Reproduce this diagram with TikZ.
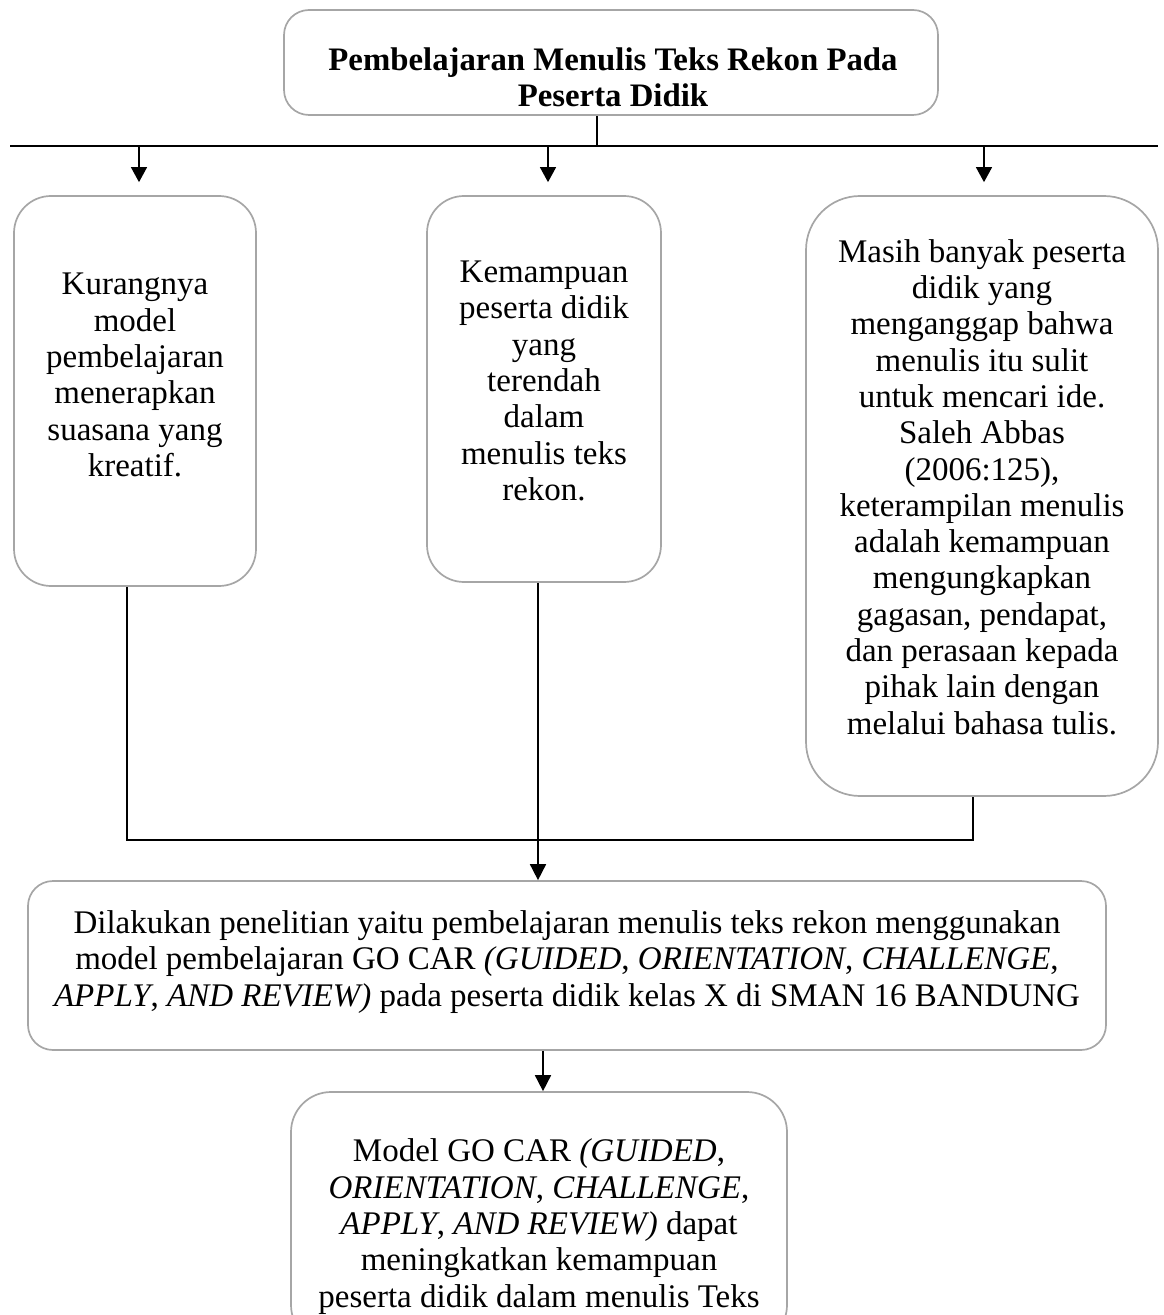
\documentclass[tikz,border=0pt]{standalone}
\usepackage{fontspec}
\setmainfont{Liberation Serif}
\usetikzlibrary{arrows.meta}
\definecolor{boxgray}{HTML}{A6A6A6}
\begin{document}
\begin{tikzpicture}[x=0.5pt,y=-0.5pt,
  box/.style={draw=boxgray, line width=0.85pt, rounded corners=#1, inner sep=0pt, fill=white},
  txt/.style={align=center, font=\fontsize{16.5pt}{18.15pt}\selectfont, inner sep=0pt},
  conn/.style={line width=0.85pt, black},
  arr/.style={-{Triangle[width=8pt,length=7.5pt]}, line width=0.65pt},
  arrbig/.style={-{Triangle[width=8pt,length=8pt]}, line width=0.85pt}
]
\useasboundingbox (0,0) rectangle (1163,1315);
\clip (0,0) rectangle (1163,1315);

% boxes
\node[box=12.5pt, minimum width=327pt, minimum height=52.5pt] (b0) at (611,62.5) {};
\node[box=18.5pt, minimum width=121pt, minimum height=195pt] (b1) at (135,391) {};
\node[box=18.5pt, minimum width=117pt, minimum height=193pt] (b2) at (544,389) {};
\node[box=27pt, minimum width=176pt, minimum height=300pt] (b3) at (982,496) {};
\node[box=12.5pt, minimum width=539pt, minimum height=84.5pt] (b4) at (567,965.5) {};
\node[box=20pt, minimum width=248pt, minimum height=126.5pt] (b5) at (539,1218.5) {};

% texts
\node[txt, font=\fontsize{16.4pt}{18.15pt}\selectfont\bfseries] (t0) at (613,77)
  {Pembelajaran Menulis Teks Rekon Pada\\ Peserta Didik};
\node[txt] (t1) at (135,375)
  {Kurangnya\\ model\\ pembelajaran\\ menerapkan\\ suasana yang\\ kreatif.};
\node[txt] (t2) at (544,381)
  {Kemampuan\\ peserta didik\\ yang\\ terendah\\ dalam\\ menulis teks\\ rekon.};
\node[txt] (t3) at (982,487)
  {Masih banyak peserta\\ didik yang\\ menganggap bahwa\\ menulis itu sulit\\ untuk mencari ide.\\ Saleh Abbas\\ (2006:125),\\ keterampilan menulis\\ adalah kemampuan\\ mengungkapkan\\ gagasan, pendapat,\\ dan perasaan kepada\\ pihak lain dengan\\ melalui bahasa tulis.};
\node[txt] (t4) at (567,962)
  {Dilakukan penelitian yaitu pembelajaran menulis teks rekon menggunakan\\
   model pembelajaran GO CAR \textit{(GUIDED}, \textit{ORIENTATION}, \textit{CHALLENGE},\\
   \textit{APPLY}, \textit{AND REVIEW)} pada peserta didik kelas X di SMAN 16 BANDUNG};
\node[txt] (t5) at (539,1226.5)
  {Model GO CAR \textit{(GUIDED},\\ \textit{ORIENTATION}, \textit{CHALLENGE},\\ \textit{APPLY}, \textit{AND REVIEW)} dapat\\ meningkatkan kemampuan\\ peserta didik dalam menulis Teks};

% connector coordinates
\coordinate (j) at (597,146);
\coordinate (hl) at (10,146);
\coordinate (hr) at (1158,146);
\coordinate (a1) at (139,146);
\coordinate (a2) at (548,146);
\coordinate (a3) at (984,146);
\coordinate (c1) at (127,840);
\coordinate (c3) at (973,840);
\coordinate (m) at (538,840);
\coordinate (n) at (543,1070);

% connectors
\draw[conn] (j |- b0.south) -- (j);
\draw[line width=1pt] (hl) -- (hr);
\draw[arr, shorten >=6.5pt] (a1) -- (a1 |- b1.north);
\draw[arr, shorten >=6.5pt] (a2) -- (a2 |- b2.north);
\draw[arr, shorten >=6.5pt] (a3) -- (a3 |- b3.north);
\draw[conn] (c1 |- b1.south) -- (c1) -- (c3) -- (c3 |- b3.south);
\draw[arrbig] (m |- b2.south) -- (m |- b4.north);
\draw[arrbig] (n |- b4.south) -- (n |- b5.north);
\end{tikzpicture}
\end{document}
